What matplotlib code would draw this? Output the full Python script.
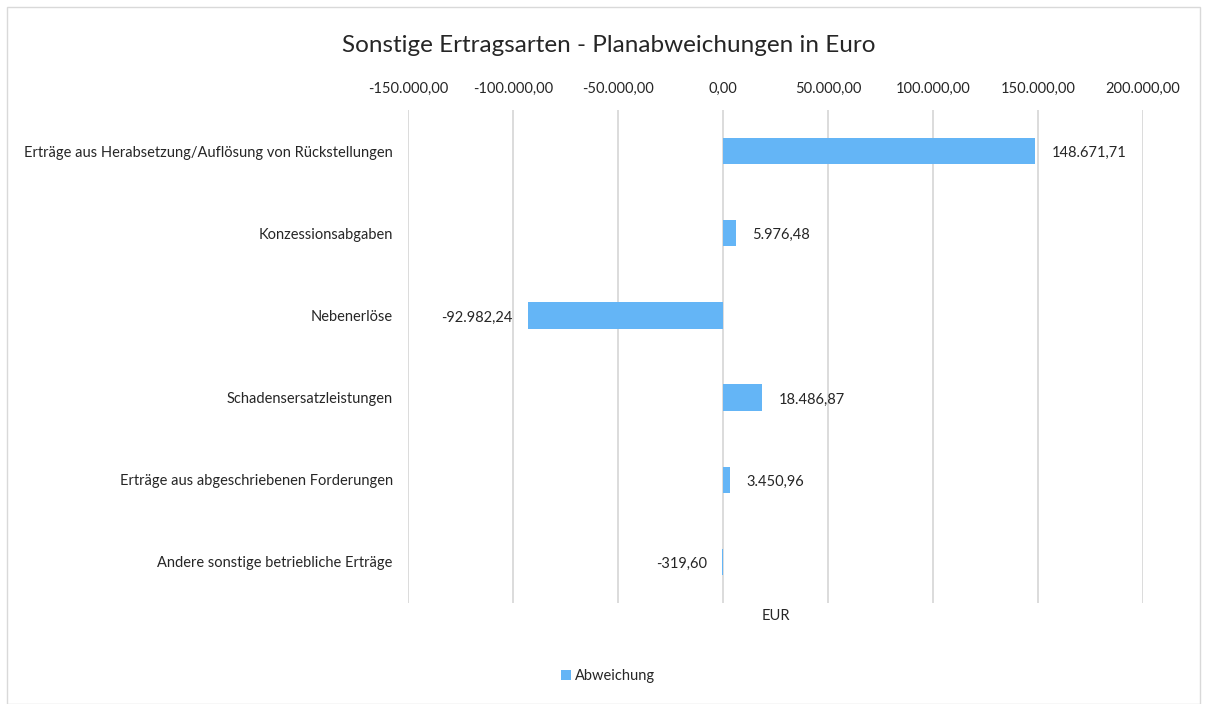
import matplotlib
matplotlib.use("Agg")
import matplotlib.pyplot as plt
from matplotlib.patches import Rectangle

categories = [
    "Erträge aus Herabsetzung/Auflösung von Rückstellungen",
    "Konzessionsabgaben",
    "Nebenerlöse",
    "Schadensersatzleistungen",
    "Erträge aus abgeschriebenen Forderungen",
    "Andere sonstige betriebliche Erträge",
]
values = [148671.71, 5976.48, -92982.24, 18486.87, 3450.96, -319.60]
x_ticks = [-150000, -100000, -50000, 0, 50000, 100000, 150000, 200000]
series_name = "Abweichung"
title = "Sonstige Ertragsarten - Planabweichungen in Euro"
x_label = "EUR"

def de_fmt(v):
    s = f"{v:,.2f}"
    return s.replace(",", "X").replace(".", ",").replace("X", ".")

plt.rcParams['font.family'] = ['Lato', 'DejaVu Sans']
bar_color = "#64B5F6"
grid_color = "#D9D9D9"
text_color = "#262626"

fig = plt.figure(figsize=(12.09, 7.04), dpi=100)
W, H = 1209, 704
ax = fig.add_axes([408 / W, 1 - 603 / H, (1143 - 408) / W, (603 - 110) / H])

ypos = list(range(len(categories)))
ax.barh(ypos, values, height=0.32, color=bar_color, label=series_name, zorder=3)
ax.set_ylim(len(categories) - 0.5, -0.5)
ax.set_xlim(x_ticks[0], x_ticks[-1])
ax.set_xticks(x_ticks)
ax.set_xticklabels([de_fmt(t) for t in x_ticks], fontsize=10.5, color=text_color)
ax.xaxis.tick_top()
ax.tick_params(axis='x', length=0, pad=10)
ax.set_yticks(ypos)
ax.set_yticklabels(categories, fontsize=10.5, color=text_color)
ax.tick_params(axis='y', length=0, pad=11)
for s in ax.spines.values():
    s.set_visible(False)
ax.grid(axis='x', color=grid_color, linewidth=1.3, zorder=0)
ax.grid(axis='y', visible=False)

for y, v in zip(ypos, values):
    if v >= 0:
        ax.annotate(de_fmt(v), (v, y), xytext=(12, -1.5), textcoords='offset points',
                    ha='left', va='center', fontsize=10.5, color=text_color)
    else:
        ax.annotate(de_fmt(v), (v, y), xytext=(-11, -1.5), textcoords='offset points',
                    ha='right', va='center', fontsize=10.5, color=text_color)

fig.text(776 / W, 1 - 616 / H, x_label, ha='center', va='center', fontsize=10.5, color=text_color)
fig.text(609 / W, 1 - 46 / H, title, ha='center', va='center', fontsize=17.5, color=text_color)

leg = fig.legend(loc='center', bbox_to_anchor=(608 / W, 1 - 676 / H), frameon=False,
                 fontsize=10.5, handlelength=0.7, handleheight=0.7, handletextpad=0.3)
for t in leg.get_texts():
    t.set_color(text_color)

fig.patches.append(Rectangle((7 / W, 0), (1200 - 7) / W, 1 - 7 / H, transform=fig.transFigure,
                             fill=False, edgecolor=grid_color, linewidth=1.0))

fig.savefig("out.png", dpi=100, facecolor="white")
